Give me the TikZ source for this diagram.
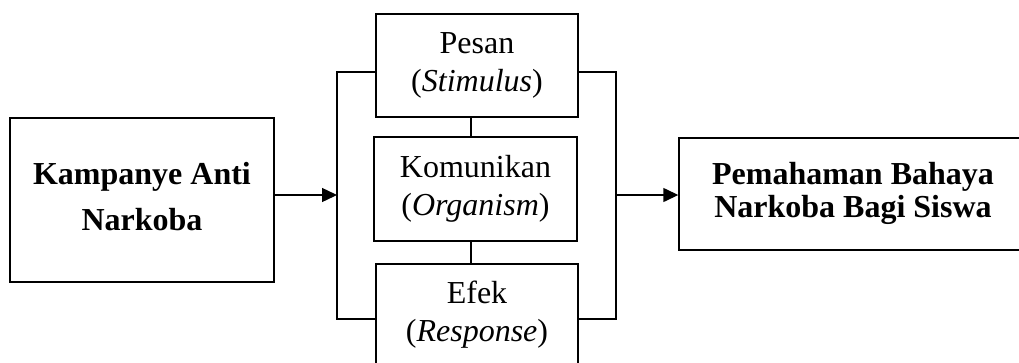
\documentclass[tikz,border=0pt]{standalone}
\usepackage{fontspec}
\setmainfont{Liberation Serif}
\usetikzlibrary{arrows.meta}
\begin{document}
\begin{tikzpicture}[x=1pt,y=-1pt, line width=1.4pt,
  box/.style={draw, rectangle, inner sep=0pt, align=center, font=\fontsize{32}{38}\selectfont},
  boldbox/.style={box, font=\fontsize{32}{37}\selectfont\bfseries},
  arr/.style={-{Triangle[length=15pt,width=14pt]}}]
\useasboundingbox (0,0) rectangle (1019,362);
\clip (0,0) rectangle (1019,362);
\node[boldbox, minimum width=264pt, minimum height=164pt] (kampanye) at (142,200) {\raisebox{11.5pt}{\begin{tabular}{@{}c@{}}Kampanye Anti\\[9pt]Narkoba\end{tabular}}};
\node[box, minimum width=202pt, minimum height=103pt] (pesan) at (477,65.5) {Pesan\\(\textit{Stimulus})};
\node[box, minimum width=203pt, minimum height=104pt] (komunikan) at (475.5,189) {Komunikan\\(\textit{Organism})};
\node[box, minimum width=202pt, minimum height=102pt] (efek) at (477,315) {Efek\\(\textit{Response})};
\node[boldbox, minimum width=348pt, minimum height=112pt] (pemahaman) at (853,194) {\raisebox{7.5pt}{\begin{tabular}{@{}c@{}}Pemahaman Bahaya\\[-4pt]Narkoba Bagi Siswa\end{tabular}}};
\coordinate (lt) at (337,72);
\coordinate (lb) at (337,319);
\coordinate (rt) at (616,72);
\coordinate (rb) at (616,319);
\coordinate (lmid) at (337,195);
\coordinate (rmid) at (616,195);
\draw (pesan.west |- lt) -- (lt) -- (lb) -- (efek.west |- lb);
\draw (pesan.east |- rt) -- (rt) -- (rb) -- (efek.east |- rb);
\draw ([xshift=-6pt]pesan.south) -- ([xshift=-4.5pt]komunikan.north);
\draw ([xshift=-4.5pt]komunikan.south) -- ([xshift=-6pt]efek.north);
\draw[arr] (kampanye.east |- lmid) -- (lmid);
\draw[arr] (rmid) -- (pemahaman.west |- rmid);
\end{tikzpicture}
\end{document}
